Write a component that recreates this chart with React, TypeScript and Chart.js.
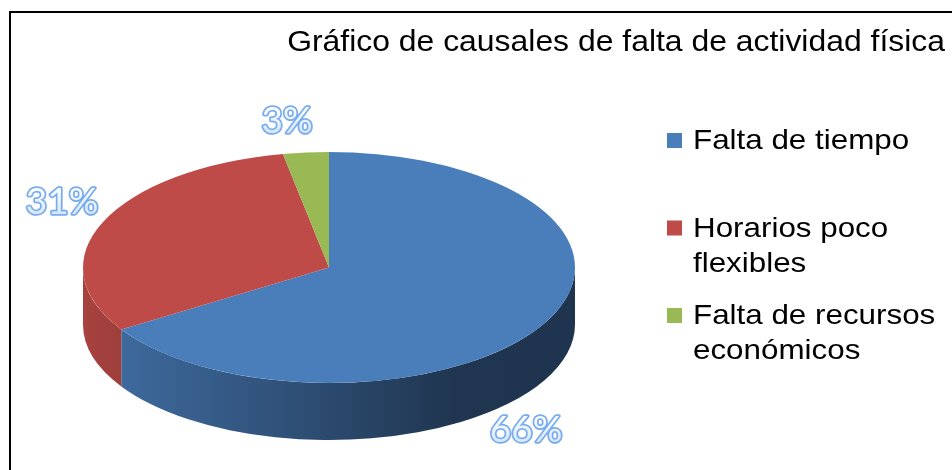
import React, { useEffect, useRef } from "react";
import { Chart, registerables } from "chart.js";

Chart.register(...registerables);

// ---- data ----
const categories = ["Falta de tiempo", "Horarios poco flexibles", "Falta de recursos económicos"];
const values = [66, 31, 3];
const sliceColors = ["#4a7ebb", "#be4b48", "#98b954"];
const chartTitle = "Gráfico de causales de falta de actividad física";

// ---- layout (3D projection of the pie) ----
const CX = 329;
const CY = 267.5;
const RX = 246;
const RY = 115.5;
const DEPTH = 57;
const XSCALE = 1.12;
const LABEL_ANCHORS: [number, number][] = [
  [526, 430],
  [62, 202],
  [287, 121],
];

function hexToRgb(h: string): [number, number, number] {
  const n = parseInt(h.slice(1), 16);
  return [(n >> 16) & 255, (n >> 8) & 255, n & 255];
}
function shade(h: string, f: number) {
  const [r, g, b] = hexToRgb(h);
  return `rgb(${Math.round(r * f)},${Math.round(g * f)},${Math.round(b * f)})`;
}

const pie3d = {
  id: "pie3d",
  beforeDraw(chart: any) {
    const ctx: CanvasRenderingContext2D = chart.ctx;
    ctx.save();
    ctx.fillStyle = "#ffffff";
    ctx.fillRect(0, 0, chart.width, chart.height);
    // chart frame (cut by the picture at right and bottom)
    ctx.strokeStyle = "#000000";
    ctx.lineWidth = 2;
    ctx.beginPath();
    ctx.moveTo(10, chart.height + 5);
    ctx.lineTo(10, 12);
    ctx.lineTo(chart.width + 5, 12);
    ctx.stroke();
    // title
    ctx.fillStyle = "#000000";
    ctx.font = '29px "Liberation Sans", Arial, sans-serif';
    ctx.textAlign = "right";
    ctx.textBaseline = "alphabetic";
    ctx.translate(945, 51);
    ctx.scale(1.1, 1);
    ctx.fillText(chartTitle, 0, 0);
    ctx.restore();
  },
  beforeDatasetsDraw(chart: any) {
    const ctx: CanvasRenderingContext2D = chart.ctx;
    const meta = chart.getDatasetMeta(0);
    const first = meta.data[0];
    const { x, y, outerRadius } = first.getProps(["x", "y", "outerRadius"], true);
    // sides of the slices (front half only)
    meta.data.forEach((el: any, i: number) => {
      const { startAngle, endAngle } = el.getProps(["startAngle", "endAngle"], true);
      const base = (chart.data.datasets[0].backgroundColor as string[])[i];
      for (let k = -1; k <= 1; k++) {
        const lo = Math.max(startAngle, k * 2 * Math.PI);
        const hi = Math.min(endAngle, k * 2 * Math.PI + Math.PI);
        if (hi <= lo) continue;
        const g = ctx.createLinearGradient(CX - RX, 0, CX + RX, 0);
        g.addColorStop(0, shade(base, 0.88));
        g.addColorStop(0.45, shade(base, 0.62));
        g.addColorStop(0.75, shade(base, 0.43));
        g.addColorStop(1, shade(base, 0.42));
        ctx.save();
        ctx.beginPath();
        ctx.ellipse(CX, CY, RX, RY, 0, lo, hi, false);
        ctx.ellipse(CX, CY + DEPTH, RX, RY, 0, hi, lo, true);
        ctx.closePath();
        ctx.fillStyle = g;
        ctx.fill();
        ctx.restore();
      }
    });
    // top face: draw the library's arcs flattened into the ellipse
    ctx.save();
    ctx.translate(CX, CY);
    ctx.scale(RX / outerRadius, RY / outerRadius);
    ctx.translate(-x, -y);
  },
  afterDatasetsDraw(chart: any) {
    const ctx: CanvasRenderingContext2D = chart.ctx;
    ctx.restore();
    // data labels
    const data = chart.data.datasets[0].data as number[];
    const total = data.reduce((a, b) => a + b, 0);
    ctx.save();
    ctx.font = '37px Lato, "Open Sans", sans-serif';
    ctx.textAlign = "center";
    ctx.textBaseline = "middle";
    data.forEach((v, i) => {
      const txt = `${Math.round((v / total) * 100)}%`;
      const [lx, ly] = LABEL_ANCHORS[i];
      const g = ctx.createLinearGradient(0, ly - 14, 0, ly + 14);
      g.addColorStop(0, "#ffffff");
      g.addColorStop(1, "#d3e4fb");
      ctx.lineJoin = "round";
      ctx.lineWidth = 3.5;
      ctx.strokeStyle = "#78acf0";
      ctx.strokeText(txt, lx, ly);
      ctx.fillStyle = g;
      ctx.fillText(txt, lx, ly);
    });
    ctx.restore();
    // legend
    ctx.save();
    ctx.font = '28px "Liberation Sans", Arial, sans-serif';
    ctx.textAlign = "left";
    ctx.textBaseline = "alphabetic";
    const maxW = 252;
    const colors = chart.data.datasets[0].backgroundColor as string[];
    (chart.data.labels as string[]).forEach((label, i) => {
      const baseY = 149 + i * 87.5;
      ctx.fillStyle = colors[i];
      ctx.fillRect(667, baseY - 16, 15, 15);
      // wrap words
      const words = label.split(" ");
      const lines: string[] = [];
      let cur = "";
      words.forEach((w) => {
        const test = cur ? cur + " " + w : w;
        if (ctx.measureText(test).width * XSCALE > maxW && cur) {
          lines.push(cur);
          cur = w;
        } else cur = test;
      });
      if (cur) lines.push(cur);
      ctx.fillStyle = "#000000";
      lines.forEach((ln, j) => {
        ctx.save();
        ctx.translate(693, baseY + j * 35);
        ctx.scale(XSCALE, 1);
        ctx.fillText(ln, 0, 0);
        ctx.restore();
      });
    });
    ctx.restore();
  },
};

export default function App() {
  const ref = useRef<HTMLCanvasElement | null>(null);
  useEffect(() => {
    if (!ref.current) return;
    const chart = new Chart(ref.current, {
      type: "pie",
      data: {
        labels: categories,
        datasets: [
          {
            data: values,
            backgroundColor: sliceColors,
            borderWidth: 0,
          },
        ],
      },
      options: {
        responsive: false,
        animation: false,
        events: [],
        layout: { padding: { left: 100, right: 420, top: 40, bottom: 40 } },
        plugins: {
          legend: { display: false },
          tooltip: { enabled: false },
          title: { display: false },
        },
      },
      plugins: [pie3d],
    });
    return () => chart.destroy();
  }, []);
  return (
    <div style={{ position: "absolute", left: 0, top: 0, width: 952, height: 470, overflow: "hidden" }}>
      <canvas ref={ref} width={952} height={470} style={{ display: "block" }} />
    </div>
  );
}
